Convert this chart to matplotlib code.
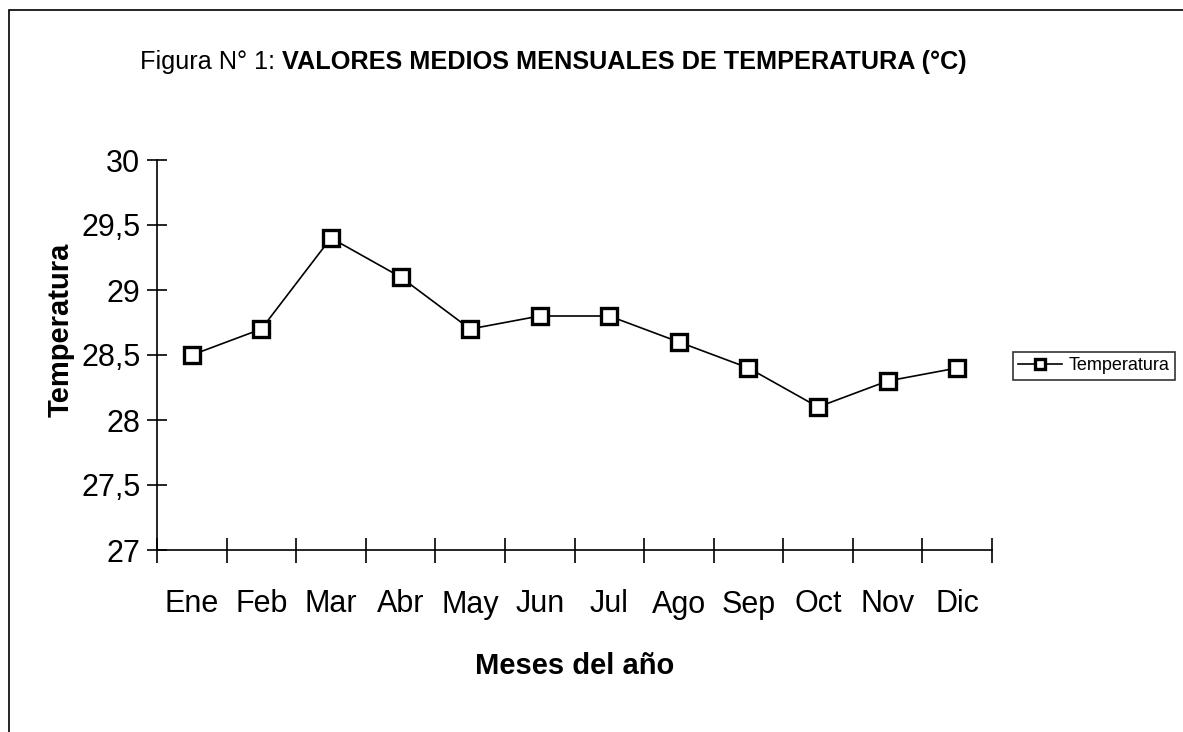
import matplotlib.pyplot as plt
from matplotlib.patches import Rectangle

# Datos
meses = ["Ene", "Feb", "Mar", "Abr", "May", "Jun", "Jul", "Ago", "Sep", "Oct", "Nov", "Dic"]
temperatura = [28.5, 28.7, 29.4, 29.1, 28.7, 28.8, 28.8, 28.6, 28.4, 28.1, 28.3, 28.4]
yticks = [27, 27.5, 28, 28.5, 29, 29.5, 30]
ytick_labels = ["27", "27,5", "28", "28,5", "29", "29,5", "30"]

plt.rcParams["font.family"] = ["Liberation Sans", "DejaVu Sans"]

W, H = 1183, 732
fig = plt.figure(figsize=(W / 100, H / 100), dpi=100)
ax = fig.add_axes([157 / W, 1 - 550 / H, (992 - 157) / W, (550 - 160) / H])

x = list(range(len(meses)))
ax.plot(x, temperatura, color="black", linewidth=1.2, marker="s", markersize=12,
        markerfacecolor="white", markeredgecolor="black", markeredgewidth=2.4,
        label="Temperatura")

ax.set_xlim(-0.5, len(meses) - 0.5)
ax.set_ylim(27, 30)
ax.set_yticks(yticks)
ax.set_yticklabels(ytick_labels)
ax.set_xticks([i - 0.5 for i in range(len(meses) + 1)])
ax.set_xticklabels([])
ax.set_xticks(x, minor=True)
ax.set_xticklabels(meses, minor=True, va="baseline")
ax.tick_params(axis="x", which="major", direction="inout", length=18, width=1.2)
ax.tick_params(axis="x", which="minor", length=0, labelsize=22, pad=45)
ax.tick_params(axis="y", direction="inout", length=14, width=1.2, labelsize=22, pad=5)

for s in ["top", "right"]:
    ax.spines[s].set_visible(False)
ax.spines["left"].set_linewidth(1.2)
ax.spines["bottom"].set_linewidth(1.2)

ax.set_ylabel("Temperatura", fontsize=21, fontweight="bold")
ax.yaxis.set_label_coords((75 - 157) / 835, (550 - 330) / 390)
ax.set_xlabel("Meses del año", fontsize=21, fontweight="bold")
ax.xaxis.set_label_coords(0.5, (550 - 652) / 390)

# Título en dos partes (normal + negrita), empezando en x=140
r = fig.canvas.get_renderer()
t1 = fig.text(0, 1 - 62 / H, "Figura N° 1: ", fontsize=18.2, ha="left", va="center")
t2 = fig.text(0, 1 - 62 / H, "VALORES MEDIOS MENSUALES DE TEMPERATURA (°C)",
              fontsize=18.2, fontweight="bold", ha="left", va="center")
w1 = t1.get_window_extent(r).width
t1.set_x(140 / W)
t2.set_x((140 + w1) / W)

leg = fig.legend(loc="center left", bbox_to_anchor=(1013 / W, 1 - 366 / H),
                 fontsize=13, frameon=True, fancybox=False, edgecolor="black",
                 handlelength=2.4, handletextpad=0.4, borderpad=0.3, borderaxespad=0,
                 markerscale=0.55)
leg.get_frame().set_linewidth(1.2)

# Marco exterior
fig.patches.append(Rectangle((9 / W, -0.1), 1.2, 1 - 10 / H + 0.1, transform=fig.transFigure,
                             fill=False, edgecolor="black", linewidth=1.2))

fig.savefig("out.png", dpi=100)
